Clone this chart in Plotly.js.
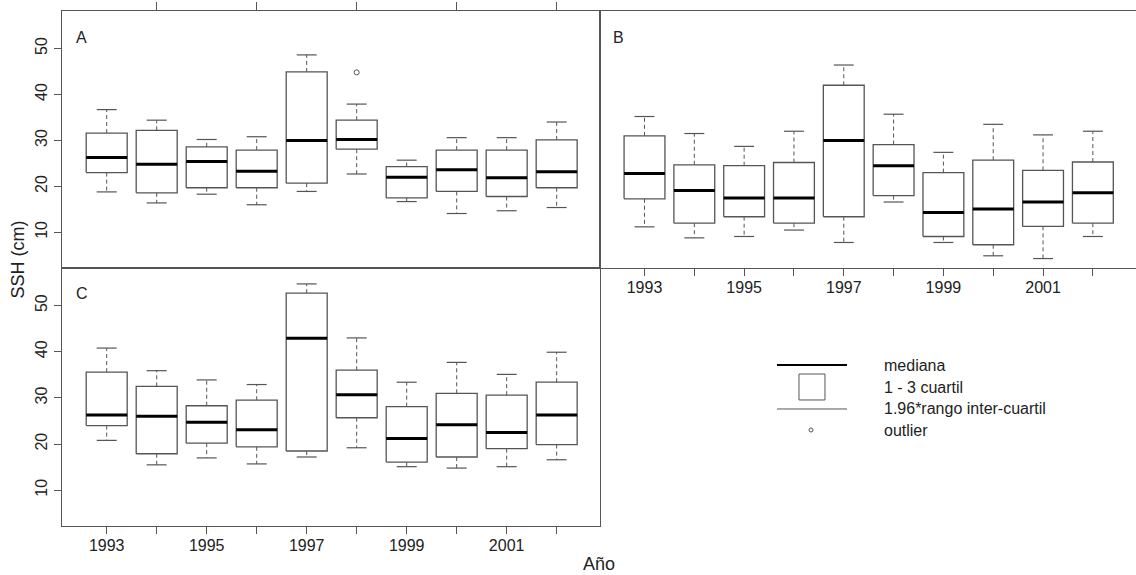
<!DOCTYPE html>
<html>
<head>
<meta charset="utf-8">
<script src="https://cdn.plot.ly/plotly-3.0.1.min.js"></script>
<style>html,body{margin:0;padding:0;background:#fff;}#chart{width:1136px;height:575px;}</style>
</head>
<body>
<div id="chart"></div>
<script>
// ---- data ----
const years = [1993, 1994, 1995, 1996, 1997, 1998, 1999, 2000, 2001, 2002];
const tickLabels = ['1993', '', '1995', '', '1997', '', '1999', '', '2001', ''];

// Panel A
const A_lo  = [18.8, 16.4, 18.3, 16.0, 18.9, 22.7, 16.7, 14.1, 14.7, 15.4];
const A_q1  = [23.0, 18.6, 19.7, 19.7, 20.7, 28.1, 17.5, 18.9, 17.8, 19.7];
const A_med = [26.3, 24.8, 25.4, 23.3, 30.0, 30.2, 22.0, 23.6, 21.9, 23.2];
const A_q3  = [31.6, 32.2, 28.6, 27.9, 44.9, 34.4, 24.3, 27.9, 27.9, 30.1];
const A_hi  = [36.7, 34.4, 30.2, 30.8, 48.6, 37.9, 25.7, 30.6, 30.6, 34.0];
const A_outX = [1998];
const A_outY = [44.8];

// Panel B
const B_lo  = [11.2, 8.8, 9.1, 10.5, 7.8, 16.6, 7.8, 4.9, 4.3, 9.1];
const B_q1  = [17.3, 12.0, 13.4, 12.0, 13.4, 18.0, 9.1, 7.3, 11.3, 12.0];
const B_med = [22.8, 19.1, 17.5, 17.5, 30.0, 24.5, 14.3, 15.1, 16.6, 18.6];
const B_q3  = [31.0, 24.7, 24.5, 25.2, 42.0, 29.1, 23.0, 25.7, 23.5, 25.3];
const B_hi  = [35.2, 31.5, 28.7, 32.0, 46.4, 35.7, 27.4, 33.5, 31.2, 32.0];

// Panel C
const C_lo  = [20.8, 15.5, 17.0, 15.7, 17.2, 19.2, 15.1, 14.8, 15.1, 16.6];
const C_q1  = [24.0, 17.9, 20.2, 19.4, 18.5, 25.7, 16.1, 17.2, 19.0, 19.9];
const C_med = [26.3, 26.0, 24.7, 23.1, 42.9, 30.7, 21.2, 24.2, 22.5, 26.3];
const C_q3  = [35.6, 32.5, 28.3, 29.5, 52.7, 36.0, 28.1, 31.0, 30.6, 33.4];
const C_hi  = [40.8, 35.9, 33.9, 32.9, 54.7, 43.0, 33.4, 37.7, 35.1, 39.9];

// ---- styling ----
const BOX_HW = 0.41, CAP_HW = 0.2;
const GREY = '#555555', TXT = '#222222';
const FONT = 'Liberation Sans, Arial, sans-serif';

function panelTraces(lo, q1, med, q3, hi, outX, outY, xa, ya) {
  const bx = [], by = [], wx = [], wy = [], cx = [], cy = [], mx = [], my = [];
  years.forEach((yr, i) => {
    bx.push(yr - BOX_HW, yr + BOX_HW, yr + BOX_HW, yr - BOX_HW, yr - BOX_HW, null);
    by.push(q1[i], q1[i], q3[i], q3[i], q1[i], null);
    wx.push(yr, yr, null, yr, yr, null);
    wy.push(q3[i], hi[i], null, q1[i], lo[i], null);
    cx.push(yr - CAP_HW, yr + CAP_HW, null, yr - CAP_HW, yr + CAP_HW, null);
    cy.push(hi[i], hi[i], null, lo[i], lo[i], null);
    mx.push(yr - BOX_HW, yr + BOX_HW, null);
    my.push(med[i], med[i], null);
  });
  const base = {type: 'scatter', mode: 'lines', xaxis: xa, yaxis: ya, hoverinfo: 'skip', showlegend: false};
  const t = [
    Object.assign({}, base, {x: wx, y: wy, line: {color: GREY, width: 1, dash: '4px,3px'}}),
    Object.assign({}, base, {x: cx, y: cy, line: {color: GREY, width: 1.2}}),
    Object.assign({}, base, {x: bx, y: by, line: {color: GREY, width: 1.3}}),
    Object.assign({}, base, {x: mx, y: my, line: {color: '#000', width: 3}})
  ];
  if (outX && outX.length) {
    t.push({type: 'scatter', mode: 'markers', x: outX, y: outY, xaxis: xa, yaxis: ya, hoverinfo: 'skip', showlegend: false,
      marker: {symbol: 'circle-open', size: 5, color: GREY, line: {width: 1, color: GREY}}});
  }
  return t;
}

const data = [].concat(
  panelTraces(A_lo, A_q1, A_med, A_q3, A_hi, A_outX, A_outY, 'x', 'y'),
  panelTraces(B_lo, B_q1, B_med, B_q3, B_hi, [], [], 'x2', 'y2'),
  panelTraces(C_lo, C_q1, C_med, C_q3, C_hi, [], [], 'x3', 'y3')
);

const XR = [1992.106, 2002.866];
const YR = [2.25, 58.15];
const xSplit = 0.5009, ySplit = 0.501;
const evenYears = years.filter(y => y % 2 === 0);

const axBase = {showgrid: false, zeroline: false, showline: true, linecolor: GREY, linewidth: 1.2,
  mirror: true, tickcolor: GREY, tickwidth: 1, tickfont: {family: FONT, size: 16, color: TXT}, fixedrange: true};

const layout = {
  width: 1136, height: 575,
  margin: {l: 62, r: 0, t: 11, b: 49},
  paper_bgcolor: '#fff', plot_bgcolor: '#fff',
  showlegend: false,
  font: {family: FONT, color: TXT},
  xaxis: Object.assign({}, axBase, {domain: [0, xSplit], anchor: 'y', range: XR, side: 'top',
    tickmode: 'array', tickvals: evenYears, ticks: 'outside', ticklen: 8, showticklabels: false}),
  yaxis: Object.assign({}, axBase, {domain: [ySplit, 1], anchor: 'x', range: YR,
    tickmode: 'array', tickvals: [10, 20, 30, 40, 50], ticks: 'outside', ticklen: 7, tickangle: -90}),
  xaxis2: Object.assign({}, axBase, {domain: [xSplit, 1], anchor: 'y2', range: XR,
    tickmode: 'array', tickvals: years, ticktext: tickLabels, ticks: 'outside', ticklen: 7, ticklabelstandoff: -2}),
  yaxis2: Object.assign({}, axBase, {domain: [ySplit, 1], anchor: 'x2', range: YR, showticklabels: false, ticks: ''}),
  xaxis3: Object.assign({}, axBase, {domain: [0, xSplit], anchor: 'y3', range: XR,
    tickmode: 'array', tickvals: years, ticktext: tickLabels, ticks: 'outside', ticklen: 7, ticklabelstandoff: -2}),
  yaxis3: Object.assign({}, axBase, {domain: [0, ySplit], anchor: 'x3', range: YR,
    tickmode: 'array', tickvals: [10, 20, 30, 40, 50], ticks: 'outside', ticklen: 7, tickangle: -90}),
  annotations: [
    {text: 'A', xref: 'paper', yref: 'paper', x: 0.0186, y: 0.9495, showarrow: false, xanchor: 'center', yanchor: 'middle', font: {size: 16, color: TXT}},
    {text: 'B', xref: 'paper', yref: 'paper', x: 0.5186, y: 0.9495, showarrow: false, xanchor: 'center', yanchor: 'middle', font: {size: 16, color: TXT}},
    {text: 'C', xref: 'paper', yref: 'paper', x: 0.0186, y: 0.4524, showarrow: false, xanchor: 'center', yanchor: 'middle', font: {size: 16, color: TXT}},
    {text: 'SSH (cm)', xref: 'paper', yref: 'paper', x: -0.0414, y: 0.5165, textangle: -90, showarrow: false, xanchor: 'center', yanchor: 'middle', font: {size: 18, color: TXT}},
    {text: 'Año', xref: 'paper', yref: 'paper', x: 0.5, y: -0.0738, showarrow: false, xanchor: 'center', yanchor: 'middle', font: {size: 18, color: TXT}},
    {text: 'mediana', xref: 'paper', yref: 'paper', x: 0.7635, y: 0.3126, showarrow: false, xanchor: 'left', yanchor: 'middle', font: {size: 16, color: TXT}},
    {text: '1 - 3 cuartil', xref: 'paper', yref: 'paper', x: 0.7635, y: 0.2699, showarrow: false, xanchor: 'left', yanchor: 'middle', font: {size: 16, color: TXT}},
    {text: '1.96*rango inter-cuartil', xref: 'paper', yref: 'paper', x: 0.7635, y: 0.2272, showarrow: false, xanchor: 'left', yanchor: 'middle', font: {size: 16, color: TXT}},
    {text: 'outlier', xref: 'paper', yref: 'paper', x: 0.7635, y: 0.1845, showarrow: false, xanchor: 'left', yanchor: 'middle', font: {size: 16, color: TXT}}
  ],
  shapes: [
    {type: 'line', xref: 'paper', yref: 'paper', x0: 0.6657, x1: 0.7309, y0: 0.3126, y1: 0.3126, line: {color: '#000', width: 2}},
    {type: 'rect', xref: 'paper', yref: 'paper', x0: 0.6862, x1: 0.7104, y0: 0.2447, y1: 0.2951, line: {color: GREY, width: 1}},
    {type: 'line', xref: 'paper', yref: 'paper', x0: 0.6657, x1: 0.7309, y0: 0.2272, y1: 0.2272, line: {color: GREY, width: 1}},
    {type: 'circle', xref: 'paper', yref: 'paper', x0: 0.6955, x1: 0.6993, y0: 0.1825, y1: 0.1903, line: {color: GREY, width: 1}}
  ]
};

Plotly.newPlot('chart', data, layout, {displayModeBar: false, staticPlot: true});
</script>
</body>
</html>
